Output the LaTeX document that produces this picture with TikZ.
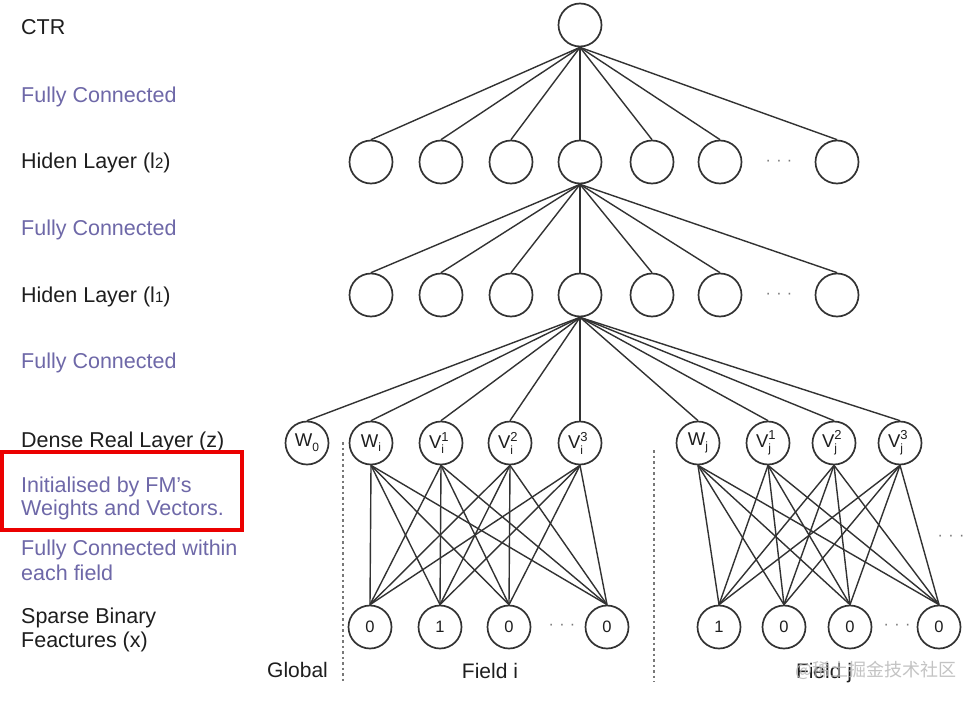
\documentclass[tikz,border=0pt]{standalone}
\usepackage{fontspec}
\setmainfont{Liberation Sans}
\newfontfamily\cjkfont{Noto Sans CJK SC}
\definecolor{fc}{RGB}{110,104,168}
\definecolor{tx}{RGB}{30,30,30}
\definecolor{ln}{RGB}{50,50,50}
\definecolor{rd}{RGB}{235,0,0}
\definecolor{dotc}{RGB}{120,120,120}
\newcommand{\supsub}[3]{#1\rlap{\raisebox{0.42em}{\fontsize{13}{13}\selectfont #2}}\raisebox{-0.28em}{\fontsize{12}{12}\selectfont #3}\hphantom{\fontsize{13}{13}\selectfont #2}\kern-0.5em\hphantom{\fontsize{13}{13}\selectfont #2}\kern0.2em}
\newcommand{\lsub}[2]{#1\raisebox{-0.25em}{\fontsize{12}{12}\selectfont #2}}
\begin{document}
\begin{tikzpicture}[x=1pt,y=-1pt,
  neuron/.style={circle,draw=ln,line width=1.7pt,minimum size=43pt,inner sep=0pt,font=\fontsize{18.5}{18.5}\selectfont,text=tx},
  bitnode/.style={neuron,font=\fontsize{16.5}{16.5}\selectfont},
  conn/.style={draw=ln,line width=1.4pt},
  lbl/.style={anchor=base west,inner sep=0pt,font=\fontsize{21.5}{24}\selectfont,text=tx},
  flbl/.style={lbl,text=fc},
  bot/.style={anchor=base,inner sep=0pt,font=\fontsize{21}{24}\selectfont,text=tx},
  ellip/.style={inner sep=0pt,text=dotc,font=\fontsize{16}{16}\selectfont},
  sep/.style={draw=dotc,line width=1.8pt,dash pattern=on 2.5pt off 3pt}
]
\useasboundingbox (0,0) rectangle (976,701);
\fill[white] (0,0) rectangle (976,701);

% left labels
\node[lbl] (tctr) at (21,35) {CTR};
\node[flbl] (tfc1) at (21,102) {Fully Connected};
\node[lbl] (th2) at (21,168) {Hiden Layer (l{\fontsize{15}{15}\selectfont 2})};
\node[flbl] (tfc2) at (21,235) {Fully Connected};
\node[lbl] (th1) at (21,302) {Hiden Layer (l{\fontsize{15}{15}\selectfont 1})};
\node[flbl] (tfc3) at (21,368) {Fully Connected};
\node[lbl] (tdense) at (21,447) {Dense Real Layer (z)};
\node[flbl] (tinit1) at (21,492) {Initialised by FM's};
\node[flbl] (tinit2) at (21,515) {Weights and Vectors.};
\node[flbl] (tfcw1) at (21,555) {Fully Connected within};
\node[flbl] (tfcw2) at (21,580) {each field};
\node[lbl] (tsp1) at (21,623) {Sparse Binary};
\node[lbl] (tsp2) at (21,647) {Feactures (x)};
\draw[rd,line width=3.5pt] (2,452) rectangle (242,530);

% output
\node[neuron] (ctr) at (580,25) {};

% hidden layer 2
\foreach \n/\x in {a/371,b/441,c/511,d/580,e/652,f/720,g/837}
  \node[neuron] (h2\n) at (\x,162) {};
\node[ellip] (h2dots) at (779,163) {·\,\,·\,\,·};
% hidden layer 1
\foreach \n/\x in {a/371,b/441,c/511,d/580,e/652,f/720,g/837}
  \node[neuron] (h1\n) at (\x,295) {};
\node[ellip] (h1dots) at (779,296) {·\,\,·\,\,·};

% dense layer
\node[neuron] (w0) at (307,443) {\lsub{W}{0}};
\node[neuron] (wi) at (371,443) {\lsub{W}{i}};
\node[neuron] (vi1) at (441,443) {\supsub{V}{1}{i}};
\node[neuron] (vi2) at (510,443) {\supsub{V}{2}{i}};
\node[neuron] (vi3) at (580,443) {\supsub{V}{3}{i}};
\node[neuron] (wj) at (698,443) {\lsub{W}{j}};
\node[neuron] (vj1) at (768,443) {\supsub{V}{1}{j}};
\node[neuron] (vj2) at (834,443) {\supsub{V}{2}{j}};
\node[neuron] (vj3) at (900,443) {\supsub{V}{3}{j}};

% sparse inputs
\node[bitnode] (bi1) at (370,627) {0};
\node[bitnode] (bi2) at (440,627) {1};
\node[bitnode] (bi3) at (509,627) {0};
\node[bitnode] (bi4) at (607,627) {0};
\node[ellip] (bidots) at (562,627) {·\,\,·\,\,·};
\node[bitnode] (bj1) at (719,627) {1};
\node[bitnode] (bj2) at (784,627) {0};
\node[bitnode] (bj3) at (850,627) {0};
\node[bitnode] (bj4) at (939,627) {0};
\node[ellip] (bjdots) at (897,627) {·\,\,·\,\,·};
\node[ellip] (rdots) at (951,538) {·\,\,·\,\,·};

% connections
\foreach \t in {h2a,h2b,h2c,h2d,h2e,h2f,h2g}
  \draw[conn] (ctr.south) -- (\t.north);
\foreach \t in {h1a,h1b,h1c,h1d,h1e,h1f,h1g}
  \draw[conn] (h2d.south) -- (\t.north);
\foreach \t in {w0,wi,vi1,vi2,vi3,wj,vj1,vj2,vj3}
  \draw[conn] (h1d.south) -- (\t.north);
\foreach \s in {wi,vi1,vi2,vi3}
  \foreach \t in {bi1,bi2,bi3,bi4}
    \draw[conn] (\s.south) -- (\t.north);
\foreach \s in {wj,vj1,vj2,vj3}
  \foreach \t in {bj1,bj2,bj3,bj4}
    \draw[conn] (\s.south) -- (\t.north);

% separators
\coordinate (s1t) at (343,442);
\coordinate (s1b) at (343,682);
\coordinate (s2t) at (654,450);
\coordinate (s2b) at (654,682);
\draw[sep] (s1t) -- (s1b);
\draw[sep] (s2t) -- (s2b);

% bottom labels
\node[bot,anchor=base west] (tglobal) at (267,677) {Global};
\node[bot] (tfieldi) at (490,678) {Field i};
\node[bot] (tfieldj) at (824,678) {Field j};
\node[anchor=west,inner sep=0pt,text=gray!55,opacity=0.85,font=\cjkfont\fontsize{18}{18}\selectfont] (wm) at (795,670) {@稀土掘金技术社区};
\end{tikzpicture}
\end{document}
